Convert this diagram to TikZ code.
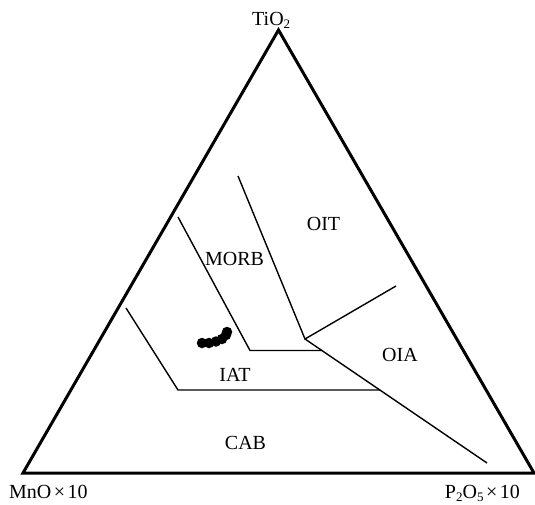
\documentclass[tikz,border=0pt]{standalone}
\usepackage{fontspec}
\setmainfont{Liberation Serif}
\newcommand{\sbsc}[1]{\raisebox{-3.5pt}{\fontsize{13}{13}\selectfont #1}}
\newcommand{\tms}{\hspace{2.5pt}×\hspace{2.5pt}}
\begin{document}
\begin{tikzpicture}[x=1pt,y=-1pt,
  frame/.style={line width=3pt,line join=miter},
  bound/.style={line width=1.4pt},
  lbl/.style={inner sep=0pt,font=\fontsize{20}{22}\selectfont},
  dot/.style={circle,fill=black,inner sep=0pt,minimum size=10.5pt}]
\useasboundingbox (0,0) rectangle (535,504);
% vertices
\coordinate (T) at (278.5,30);
\coordinate (L) at (23,473);
\coordinate (R) at (534,473);
\draw[frame] (T) -- (L) -- (R) -- cycle;
% field boundaries
\coordinate (a1) at (178,217);
\coordinate (a2) at (250,350.5);
\coordinate (a3) at (322,350.5);
\coordinate (b1) at (238,176);
\coordinate (J) at (305,339);
\coordinate (b3) at (396,286);
\coordinate (e) at (487,463);
\coordinate (c1) at (126,308);
\coordinate (c2) at (178,390);
\coordinate (c3) at (380,390);
\draw[bound] (a1) -- (a2) -- (a3);
\draw[bound] (b1) -- (J) -- (b3);
\draw[bound] (J) -- (e);
\draw[bound] (c1) -- (c2) -- (c3);
% labels
\node[lbl,anchor=base west] (ti) at (252,25) {TiO\sbsc{2}};
\node[lbl,anchor=base west] (mn) at (9,498) {MnO\tms 10};
\node[lbl,anchor=base east] (p) at (520,498) {P\sbsc{2}O\sbsc{5}\tms 10};
\node[lbl] (oit) at (323.5,224) {OIT};
\node[lbl] (morb) at (234.5,259) {MORB};
\node[lbl] (oia) at (400,355) {OIA};
\node[lbl] (iat) at (235,375) {IAT};
\node[lbl] (cab) at (245.5,443) {CAB};
% samples
\node[dot] (s1) at (202,343) {};
\node[dot] (s2) at (209,343) {};
\node[dot] (s3) at (216,341.5) {};
\node[dot] (s4) at (222,339) {};
\node[dot] (s5) at (226,335) {};
\node[dot] (s6) at (227,332) {};
\end{tikzpicture}
\end{document}
